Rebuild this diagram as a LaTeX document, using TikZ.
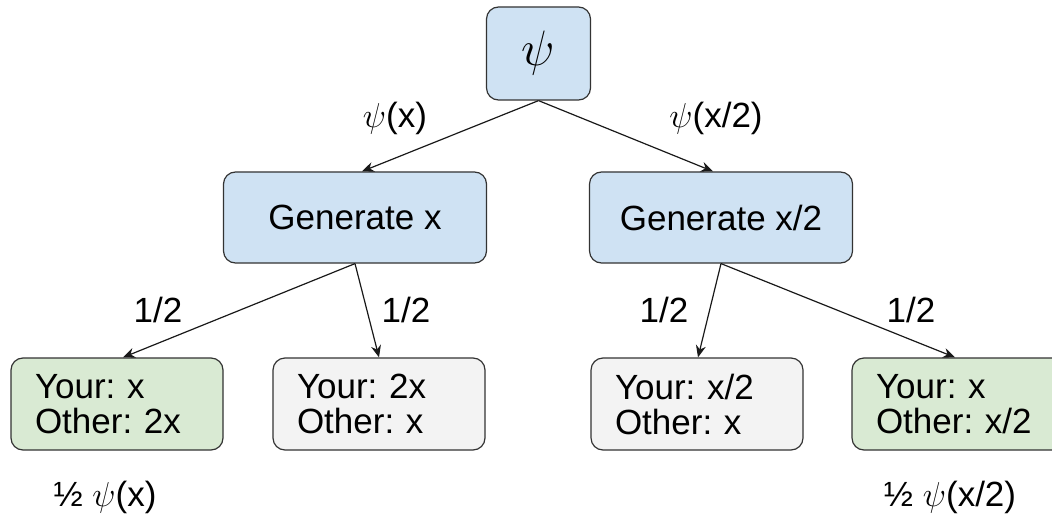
\documentclass[tikz,border=0pt]{standalone}
\usepackage{fontspec}
\setmainfont{Liberation Sans}
\usetikzlibrary{arrows.meta}
\definecolor{boxblue}{HTML}{CFE2F3}
\definecolor{boxgreen}{HTML}{D9EAD3}
\definecolor{boxgray}{HTML}{F3F3F3}
\definecolor{linegray}{HTML}{333333}
\frenchspacing

\begin{document}
\begin{tikzpicture}[x=0.5pt,y=-0.5pt,
    box/.style={draw=linegray, line width=0.6pt, rounded corners=6pt,
      font=\fontsize{17.5}{17.5}\selectfont, inner sep=0pt},
    genbox/.style={box, fill=boxblue, minimum width=131.5pt, minimum height=45.5pt},
    leafbox/.style={box, align=left, text width=82pt, inner xsep=12pt,
      minimum height=46pt},
    lbl/.style={font=\fontsize{17.5}{20}\selectfont, inner sep=0pt},
    arr/.style={-{Stealth[length=6pt,width=5pt]}, line width=0.6pt, draw=black!90}]
  \clip (0,0) rectangle (1052,518);
  % top
  \node[box, fill=boxblue, minimum width=52pt, minimum height=46.5pt,
    font=\fontsize{27}{27}\selectfont] (psi) at (538.5,53.5) {$\psi$};
  % generators
  \node[genbox] (genx) at (355,217.5) {Generate x};
  \node[genbox] (genhalf) at (721,217.5) {Generate x/2};
  % outcomes
  \node[leafbox, fill=boxgreen] (leafA) at (117,404) {Your: x\\Other: 2x};
  \node[leafbox, fill=boxgray] (leafB) at (379,404) {Your: 2x\\Other: x};
  \node[leafbox, fill=boxgray] (leafC) at (697,404) {Your: x/2\\Other: x};
  \node[leafbox, fill=boxgreen] (leafD) at (958,404) {Your: x\\Other: x/2};
  % connectors
  \draw[arr] (psi.south) -- ([xshift=3.5pt]genx.north);
  \draw[arr] (psi.south) -- ([xshift=-4pt]genhalf.north);
  \draw[arr] (genx.south) -- ([xshift=3pt]leafA.north);
  \draw[arr] (genx.south) -- (leafB.north);
  \draw[arr] (genhalf.south) -- ([xshift=0.5pt]leafC.north);
  \draw[arr] (genhalf.south) -- ([xshift=-1.5pt]leafD.north);
  % labels
  \node[lbl] (pA) at (395,118) {$\psi$(x)};
  \node[lbl] (pB) at (716,118) {$\psi$(x/2)};
  \node[lbl] (hA) at (158,310) {1/2};
  \node[lbl] (hB) at (406,310) {1/2};
  \node[lbl] (hC) at (664,310) {1/2};
  \node[lbl] (hD) at (911,310) {1/2};
  \node[lbl] (wA) at (105,497) {½ $\psi$(x)};
  \node[lbl] (wB) at (950,497) {½ $\psi$(x/2)};
\end{tikzpicture}
\end{document}
